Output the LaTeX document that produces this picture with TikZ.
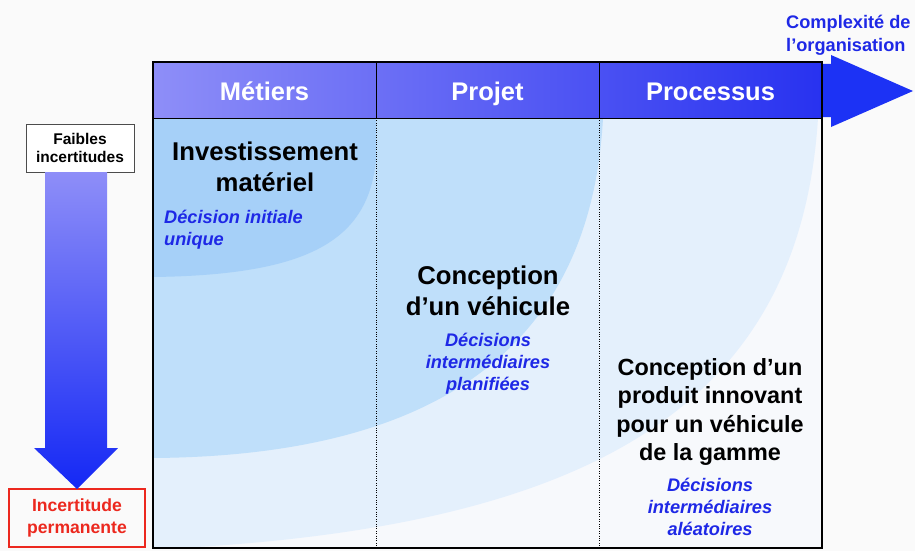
\documentclass[tikz,border=0pt]{standalone}
\usepackage{fontspec}
\setmainfont{Liberation Sans}
\usetikzlibrary{positioning}

\definecolor{fond}{RGB}{250,250,250}
\definecolor{zoneA}{RGB}{166,208,248}
\definecolor{zoneB}{RGB}{191,223,250}
\definecolor{zoneC}{RGB}{228,240,252}
\definecolor{zoneD}{RGB}{247,249,252}
\definecolor{enteteG}{RGB}{142,142,248}
\definecolor{enteteD}{RGB}{40,50,240}
\definecolor{fleche}{RGB}{28,50,245}
\definecolor{flecheH}{RGB}{142,142,248}
\definecolor{flecheB}{RGB}{20,40,245}
\definecolor{decbleu}{RGB}{30,40,230}
\definecolor{rouge}{RGB}{236,40,30}

\begin{document}
\begin{tikzpicture}[x=1pt,y=-1pt,
  hcell/.style={draw,thin,outer sep=0pt,inner sep=0pt,minimum width=223pt,minimum height=56pt,text height=23pt,text depth=3pt,text=white,font=\bfseries\fontsize{25.5}{30}\selectfont},
  titre/.style={align=center,inner sep=0pt,font=\bfseries\fontsize{25.7}{31}\selectfont},
  decision/.style={align=center,inner sep=0pt,text=decbleu,font=\bfseries\itshape\fontsize{18.2}{22}\selectfont},
  legende/.style={align=center,inner sep=0pt,outer sep=0pt,font=\bfseries\fontsize{15.5}{17.5}\selectfont}]

\useasboundingbox (0,0) rectangle (915,551);
\fill[fond] (0,0) rectangle (915,551);

% zones d'incertitude
\begin{scope}
  \clip (153,118) rectangle (822,548);
  \fill[zoneD] (153,118) rectangle (822,548);
  \fill[zoneC] (153,118) -- (153,548) -- (180,548) .. controls (600,525) and (800,400) .. (818,118) -- cycle;
  \fill[zoneB] (153,118) -- (153,458) .. controls (420,456) and (590,360) .. (603,118) -- cycle;
  \fill[zoneA] (153,118) -- (153,277) .. controls (310,275) and (368,240) .. (376,160) -- (376,118) -- cycle;
\end{scope}

\shade[left color=enteteG,right color=enteteD] (153,62) rectangle (822,118);
\fill[fleche] (820,64) -- (831,64) -- (831,55) -- (913,91) -- (831,127) -- (831,117) -- (820,117) -- cycle;

\node[hcell] (met) at (264.5,90) {Métiers};
\node[hcell, right=0pt of met] (proj) {Projet};
\node[hcell, right=0pt of proj] (proc) {Processus};
\node[draw,line width=2.5pt,outer sep=0pt,minimum width=669pt,minimum height=486pt] (cadre) at (487.5,305) {};

\draw[dotted] (met.south east) -- (met.south east |- cadre.south);
\draw[dotted] (proj.south east) -- (proj.south east |- cadre.south);

\node[titre] (invest) at (265,166.5) {Investissement\\matériel};
\node[decision,align=left,anchor=west] (dec1) at (164,230) {Décision initiale\\unique};
\node[titre] (vehic) at (488,291) {Conception\\d’un véhicule};
\node[decision] (dec2) at (488,364) {Décisions\\intermédiaires\\planifiées};
\node[titre,font=\bfseries\fontsize{23.4}{28.3}\selectfont] (innov) at (710,412) {Conception d’un\\produit innovant\\pour un véhicule\\de la gamme};
\node[decision] (dec3) at (710,506.5) {Décisions\\intermédiaires\\aléatoires};

\node[align=left,anchor=west,inner sep=0pt,text=decbleu,font=\bfseries\fontsize{18.2}{23}\selectfont] (cplx) at (786,35) {Complexité de\\l’organisation};

% axe des incertitudes
\node[legende,draw=black!70,fill=white,minimum width=108pt,minimum height=48pt] (faible) at (80,148) {Faibles\\incertitudes};
\node[legende,draw=rouge,line width=1.6pt,text=rouge,minimum width=136pt,minimum height=58pt,font=\bfseries\fontsize{17.6}{22}\selectfont] (incert) at (77,518) {Incertitude\\permanente};
\shade[top color=flecheH,bottom color=flecheB] (45,172) -- (107,172) -- (107,448) -- (118,448) -- (incert.north) -- (34,448) -- (45,448) -- cycle;
\end{tikzpicture}
\end{document}
